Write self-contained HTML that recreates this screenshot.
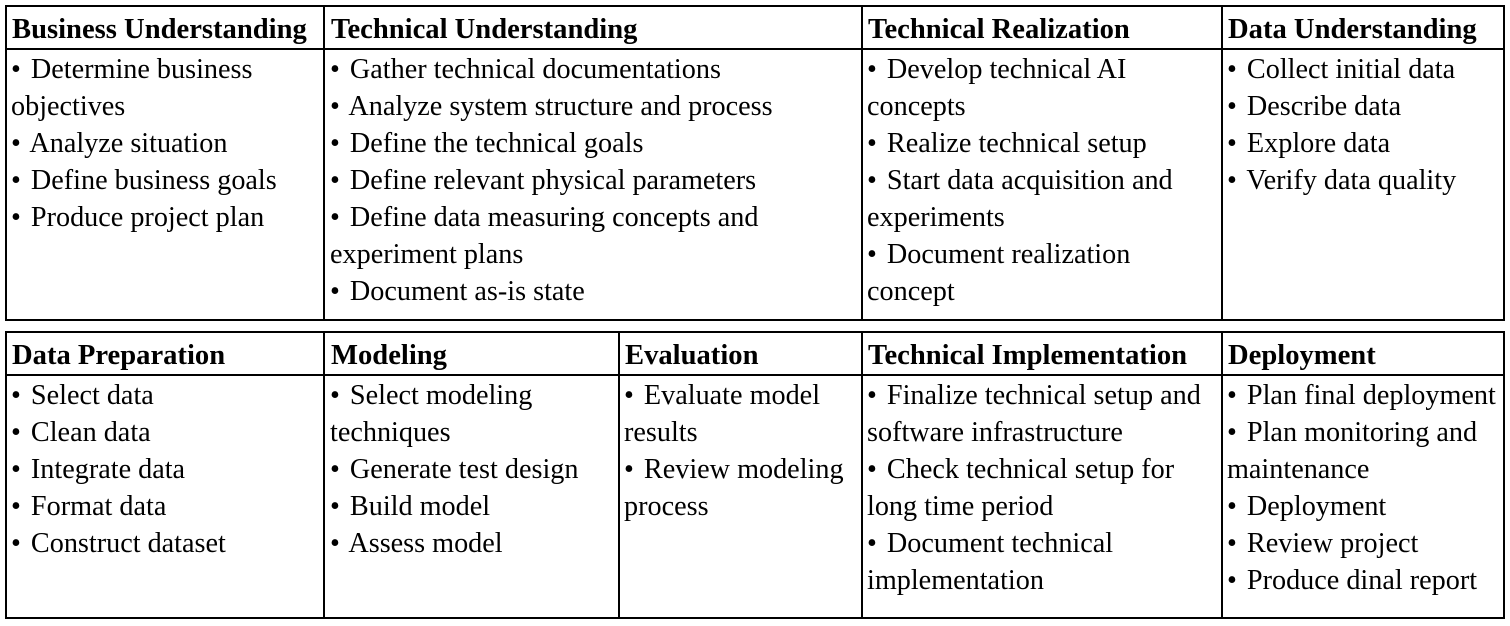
<!DOCTYPE html>
<html><head><meta charset="utf-8"><style>
body{margin:0;width:1510px;height:626px;background:#fff;position:relative;font-family:"Liberation Serif",serif;color:#000;overflow:hidden}
.b{position:absolute;background:#000}
.t{position:absolute;font-size:28.2px;line-height:37px;white-space:normal}
.t i{font-style:normal;padding-right:3px}
.h{position:absolute;font-size:28.6px;font-weight:bold;line-height:44px;white-space:nowrap}
</style></head><body>
<div class="b" style="left:5px;top:5px;width:1500px;height:2px"></div>
<div class="b" style="left:5px;top:48px;width:1500px;height:2px"></div>
<div class="b" style="left:5px;top:319px;width:1500px;height:2px"></div>
<div class="b" style="left:5px;top:5px;width:2px;height:316px"></div>
<div class="b" style="left:323px;top:5px;width:2px;height:316px"></div>
<div class="b" style="left:861px;top:5px;width:2px;height:316px"></div>
<div class="b" style="left:1221px;top:5px;width:2px;height:316px"></div>
<div class="b" style="left:1503px;top:5px;width:2px;height:316px"></div>
<div class="h" style="left:12px;top:8px">Business Understanding</div>
<div class="h" style="left:331px;top:8px">Technical Understanding</div>
<div class="h" style="left:868px;top:8px">Technical Realization</div>
<div class="h" style="left:1228px;top:8px">Data Understanding</div>
<div class="t" style="left:11px;top:51px;width:305px"><i>•</i> Determine business objectives<br><i>•</i> Analyze situation<br><i>•</i> Define business goals<br><i>•</i> Produce project plan</div>
<div class="t" style="left:330px;top:51px;width:530px"><i>•</i> Gather technical documentations<br><i>•</i> Analyze system structure and process<br><i>•</i> Define the technical goals<br><i>•</i> Define relevant physical parameters<br><i>•</i> Define data measuring concepts and experiment plans<br><i>•</i> Document as-is state</div>
<div class="t" style="left:867px;top:51px;width:340px"><i>•</i> Develop technical AI concepts<br><i>•</i> Realize technical setup<br><i>•</i> Start data acquisition and experiments<br><i>•</i> Document realization concept</div>
<div class="t" style="left:1227px;top:51px;width:276px"><i>•</i> Collect initial data<br><i>•</i> Describe data<br><i>•</i> Explore data<br><i>•</i> Verify data quality</div>
<div class="b" style="left:5px;top:331px;width:1500px;height:2px"></div>
<div class="b" style="left:5px;top:374px;width:1500px;height:2px"></div>
<div class="b" style="left:5px;top:617px;width:1500px;height:2px"></div>
<div class="b" style="left:5px;top:331px;width:2px;height:288px"></div>
<div class="b" style="left:323px;top:331px;width:2px;height:288px"></div>
<div class="b" style="left:618px;top:331px;width:2px;height:288px"></div>
<div class="b" style="left:861px;top:331px;width:2px;height:288px"></div>
<div class="b" style="left:1221px;top:331px;width:2px;height:288px"></div>
<div class="b" style="left:1503px;top:331px;width:2px;height:288px"></div>
<div class="h" style="left:12px;top:334px">Data Preparation</div>
<div class="h" style="left:331px;top:334px">Modeling</div>
<div class="h" style="left:625px;top:334px">Evaluation</div>
<div class="h" style="left:868px;top:334px">Technical Implementation</div>
<div class="h" style="left:1228px;top:334px">Deployment</div>
<div class="t" style="left:11px;top:377px;width:305px"><i>•</i> Select data<br><i>•</i> Clean data<br><i>•</i> Integrate data<br><i>•</i> Format data<br><i>•</i> Construct dataset</div>
<div class="t" style="left:330px;top:377px;width:285px"><i>•</i> Select modeling techniques<br><i>•</i> Generate test design<br><i>•</i> Build model<br><i>•</i> Assess model</div>
<div class="t" style="left:624px;top:377px;width:236px"><i>•</i> Evaluate model results<br><i>•</i> Review modeling process</div>
<div class="t" style="left:867px;top:377px;width:352px"><i>•</i> Finalize technical setup and software infrastructure<br><i>•</i> Check technical setup for long time period<br><i>•</i> Document technical implementation</div>
<div class="t" style="left:1227px;top:377px;width:276px"><i>•</i> Plan final deployment<br><i>•</i> Plan monitoring and maintenance<br><i>•</i> Deployment<br><i>•</i> Review project<br><i>•</i> Produce dinal report</div>
</body></html>
